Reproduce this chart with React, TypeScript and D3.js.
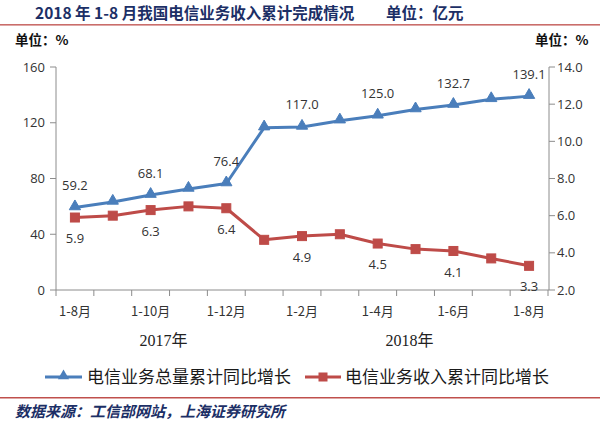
import React from "react";
import * as d3 from "d3";

const categories = ["1-8月", "1-9月", "1-10月", "1-11月", "1-12月", "1月", "1-2月", "1-3月", "1-4月", "1-5月", "1-6月", "1-7月", "1-8月"];
const volumeGrowth = [59.2, 63.2, 68.1, 72.5, 76.4, 116.5, 117.0, 121.5, 125.0, 129.5, 132.7, 136.8, 139.1];
const revenueGrowth = [5.9, 6.0, 6.3, 6.5, 6.4, 4.7, 4.9, 5.0, 4.5, 4.2, 4.1, 3.7, 3.3];
const leftTicks = [0, 40, 80, 120, 160];
const rightTicks = [2, 4, 6, 8, 10, 12, 14];
const labelIdx = [0, 2, 4, 6, 8, 10, 12];
const years = [
  { label: "2017年", from: 0, to: 4 },
  { label: "2018年", from: 6, to: 12 },
];
const seriesNames = ["电信业务总量累计同比增长", "电信业务收入累计同比增长"];

const BLUE = "#4a7ebb";
const RED = "#be4b48";
const CJK = "'Noto Sans CJK SC', 'Noto Sans', sans-serif";

export default function App() {
  const idx = categories.map((_, i) => i);
  const x = d3.scaleBand<number>().domain(idx).range([56, 548]).padding(0);
  const cx = (i: number) => (x(i) as number) + x.bandwidth() / 2;
  const yL = d3.scaleLinear().domain([0, 160]).range([290, 67]);
  const yR = d3.scaleLinear().domain([2, 14]).range([290, 67]);

  const lineL = d3.line<number>().x((_, i) => cx(i)).y((d) => yL(d));
  const lineR = d3.line<number>().x((_, i) => cx(i)).y((d) => yR(d));
  const tri = d3.symbol().type(d3.symbolTriangle).size(55)();

  const boundaries = d3.range(categories.length + 1).map((i) =>
    i < categories.length ? (x(i) as number) : (x(categories.length - 1) as number) + x.bandwidth()
  );

  return (
    <svg width={600} height={427} style={{ position: "absolute", left: 0, top: 0, background: "#fff" }}>
      <defs>
        <linearGradient id="redline" x1="0" x2="0" y1="0" y2="1">
          <stop offset="0" stopColor="#c0504d" />
          <stop offset="1" stopColor="#e8c4c3" />
        </linearGradient>
      </defs>
      {/* Title */}
      <text x={35} y={19} fontFamily={CJK} fontWeight="bold" fontSize={15.5} fill="#1c2f66">
        2018 年 1-8 月我国电信业务收入累计完成情况
      </text>
      <text x={386} y={19} fontFamily={CJK} fontWeight="bold" fontSize={15.5} fill="#1c2f66">
        单位：亿元
      </text>
      <rect x={0} y={24} width={600} height={2} fill="url(#redline)" />

      {/* unit labels */}
      <text x={15} y={45} fontFamily={CJK} fontWeight="bold" fontSize={13.5} fill="#111">单位：%</text>
      <text x={535} y={45} fontFamily={CJK} fontWeight="bold" fontSize={13.5} fill="#111">单位：%</text>

      {/* left axis */}
      <line x1={56} x2={56} y1={yL(160)} y2={yL(0)} stroke="#8c8c8c" strokeWidth={1} />
      {leftTicks.map((t) => (
        <g key={"l" + t}>
          <line x1={50} x2={56} y1={yL(t)} y2={yL(t)} stroke="#8c8c8c" />
          <text x={45} y={yL(t)} dy="0.35em" textAnchor="end" fontFamily="'Open Sans', sans-serif" fontSize={13} fill="#333">
            {t}
          </text>
        </g>
      ))}

      {/* right axis */}
      <line x1={549} x2={549} y1={yR(14)} y2={yR(2)} stroke="#8c8c8c" strokeWidth={1} />
      {rightTicks.map((t) => (
        <g key={"r" + t}>
          <line x1={549} x2={555} y1={yR(t)} y2={yR(t)} stroke="#8c8c8c" />
          <text x={557} y={yR(t)} dy="0.35em" textAnchor="start" fontFamily="'Open Sans', sans-serif" fontSize={13} fill="#333">
            {t.toFixed(1)}
          </text>
        </g>
      ))}

      {/* x axis */}
      <line x1={56} x2={549} y1={290} y2={290} stroke="#8c8c8c" />
      {boundaries.map((b, i) => (
        <line key={"xt" + i} x1={b} x2={b} y1={290} y2={296} stroke="#8c8c8c" />
      ))}
      {labelIdx.map((i) => (
        <text key={"xl" + i} x={cx(i)} y={311} dy="0.35em" textAnchor="middle" fontFamily={CJK} fontSize={13} fill="#333">
          {categories[i]}
        </text>
      ))}
      {years.map((yr) => (
        <text
          key={yr.label}
          x={yr.label === "2017年" ? (cx(yr.from) + cx(yr.to)) / 2 + 13 : (cx(yr.from) + cx(yr.to)) / 2 - 6}
          y={340}
          dy="0.35em"
          textAnchor="middle"
          fontFamily="'Liberation Serif', 'Noto Sans CJK SC', serif"
          fontSize={16}
          fill="#222"
        >
          {yr.label}
        </text>
      ))}

      {/* lines */}
      <path d={lineL(volumeGrowth) || ""} fill="none" stroke={BLUE} strokeWidth={3} strokeLinejoin="round" />
      {volumeGrowth.map((v, i) => (
        <path key={"bm" + i} d={tri || ""} transform={`translate(${cx(i)},${yL(v) - 1})`} fill={BLUE} stroke={BLUE} strokeWidth={1} />
      ))}
      <path d={lineR(revenueGrowth) || ""} fill="none" stroke={RED} strokeWidth={3} strokeLinejoin="round" />
      {revenueGrowth.map((v, i) => (
        <rect key={"rm" + i} x={cx(i) - 4.5} y={yR(v) - 4.5} width={9} height={9} fill={RED} stroke={RED} />
      ))}

      {/* data labels */}
      {labelIdx.map((i) => (
        <text key={"bl" + i} x={cx(i)} y={yL(volumeGrowth[i]) - 22} dy="0.35em" textAnchor="middle" fontFamily="'Open Sans', sans-serif" fontSize={13} fill="#333">
          {volumeGrowth[i].toFixed(1)}
        </text>
      ))}
      {labelIdx.map((i) => (
        <text key={"rl" + i} x={cx(i)} y={yR(revenueGrowth[i]) + 21} dy="0.35em" textAnchor="middle" fontFamily="'Open Sans', sans-serif" fontSize={13} fill="#333">
          {revenueGrowth[i].toFixed(1)}
        </text>
      ))}

      {/* legend */}
      <line x1={45} x2={82} y1={377} y2={377} stroke={BLUE} strokeWidth={3} />
      <path d={tri || ""} transform="translate(63.5,376)" fill={BLUE} />
      <text x={87} y={377} dy="0.35em" fontFamily={CJK} fontSize={17} fill="#1a1a1a">{seriesNames[0]}</text>
      <line x1={305} x2={341} y1={377} y2={377} stroke={RED} strokeWidth={3} />
      <rect x={318.5} y={372.5} width={9} height={9} fill={RED} />
      <text x={345} y={377} dy="0.35em" fontFamily={CJK} fontSize={17} fill="#1a1a1a">{seriesNames[1]}</text>

      <rect x={0} y={397} width={600} height={1.5} fill="#c0504d" />
      <text x={15} y={417} fontFamily={CJK} fontStyle="italic" fontWeight="bold" fontSize={15} fill="#1c2f66">
        数据来源：工信部网站，上海证券研究所
      </text>
    </svg>
  );
}
